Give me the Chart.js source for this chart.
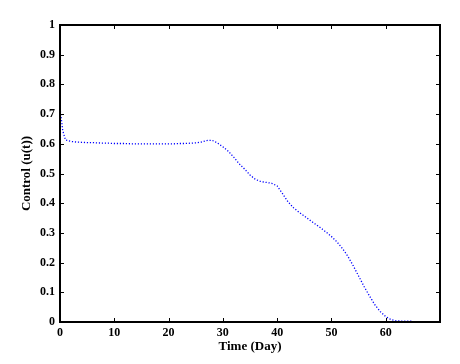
<!DOCTYPE html>
<html>
<head>
<meta charset="utf-8">
<script src="https://cdn.jsdelivr.net/npm/chart.js@4"></script>
<style>
html,body{margin:0;padding:0;background:#fff;}
#wrap{width:460px;height:364px;position:relative;}
</style>
</head>
<body>
<div id="wrap"><canvas id="c" width="460" height="364"></canvas></div>
<script>
// Time (days)
const tDays = [0,0.5,1,2,3,4,5,6,7,8,9,10,11,12,13,14,15,16,17,18,19,20,21,22,23,24,25,26,27,28,29,30,31,32,33,34,35,36,37,38,39,40,41,42,43,44,45,46,47,48,49,50,51,52,53,54,55,56,57,58,59,60,61,62,63,64,65];
// Control u(t)
const control = [0.72,0.645,0.613,0.608,0.606,0.605,0.604,0.604,0.603,0.602,0.602,0.601,0.601,0.601,0.600,0.600,0.600,0.600,0.600,0.600,0.600,0.600,0.600,0.601,0.601,0.602,0.603,0.606,0.611,0.612,0.603,0.59,0.575,0.555,0.533,0.515,0.495,0.48,0.473,0.47,0.467,0.458,0.432,0.405,0.385,0.37,0.357,0.343,0.33,0.317,0.303,0.288,0.27,0.248,0.222,0.19,0.155,0.12,0.088,0.058,0.035,0.018,0.008,0.004,0.003,0.003,0.003];
const xTicks = [0,10,20,30,40,50,60];
const yTicks = [0,0.1,0.2,0.3,0.4,0.5,0.6,0.7,0.8,0.9,1];
const xLabel = 'Time (Day)';
const yLabel = 'Control (u(t))';

const fontFam = "'Liberation Serif','Times New Roman',serif";

const boxPlugin = {
  id: 'box',
  afterDatasetsDraw(chart) {
    const {ctx, chartArea: {left, right, top, bottom}, scales: {x, y}} = chart;
    ctx.save();
    ctx.strokeStyle = '#000';
    ctx.lineWidth = 1;
    ctx.beginPath();
    x.ticks.forEach(t => {
      const px = Math.round(x.getPixelForValue(t.value)) + 0.5;
      ctx.moveTo(px, bottom); ctx.lineTo(px, bottom - 4);
      ctx.moveTo(px, top); ctx.lineTo(px, top + 4);
    });
    y.ticks.forEach(t => {
      const py = Math.round(y.getPixelForValue(t.value)) + 0.5;
      ctx.moveTo(left, py); ctx.lineTo(left + 4, py);
      ctx.moveTo(right, py); ctx.lineTo(right - 4, py);
    });
    ctx.stroke();
    ctx.lineWidth = 2;
    ctx.strokeRect(left, top, right - left, bottom - top);
    ctx.restore();
  }
};

new Chart(document.getElementById('c'), {
  type: 'line',
  data: {
    datasets: [{
      data: tDays.map((t, i) => ({x: t, y: control[i]})),
      borderColor: '#0000ff',
      borderWidth: 1.3,
      borderDash: [1.2, 1.8],
      pointRadius: 0,
      tension: 0,
      fill: false,
      clip: 4
    }]
  },
  options: {
    responsive: false,
    animation: false,
    plugins: {legend: {display: false}, tooltip: {enabled: false}},
    layout: {padding: {top: 25, right: 20, bottom: 0, left: 0}},
    scales: {
      x: {
        type: 'linear', min: 0, max: 70,
        afterBuildTicks: s => { s.ticks = xTicks.map(v => ({value: v})); },
        afterFit: s => { s.height = 42; },
        grid: {display: false, drawTicks: false, tickLength: 0},
        border: {display: false},
        ticks: {color: '#000', padding: 4, maxRotation: 0, font: {family: fontFam, size: 12, weight: 'bold'}},
        title: {display: true, text: xLabel, color: '#000', padding: {top: 0, bottom: 10}, font: {family: fontFam, size: 13, weight: 'bold'}}
      },
      y: {
        type: 'linear', min: 0, max: 1,
        afterBuildTicks: s => { s.ticks = yTicks.map(v => ({value: v})); },
        afterFit: s => { s.width = 60; },
        grid: {display: false, drawTicks: false, tickLength: 0},
        border: {display: false},
        ticks: {color: '#000', padding: 5, font: {family: fontFam, size: 12, weight: 'bold'}, callback: v => String(Math.round(v * 10) / 10)},
        title: {display: true, text: yLabel, color: '#000', padding: {top: 19, bottom: 0}, font: {family: fontFam, size: 13, weight: 'bold'}}
      }
    }
  },
  plugins: [boxPlugin]
});
</script>
</body>
</html>
